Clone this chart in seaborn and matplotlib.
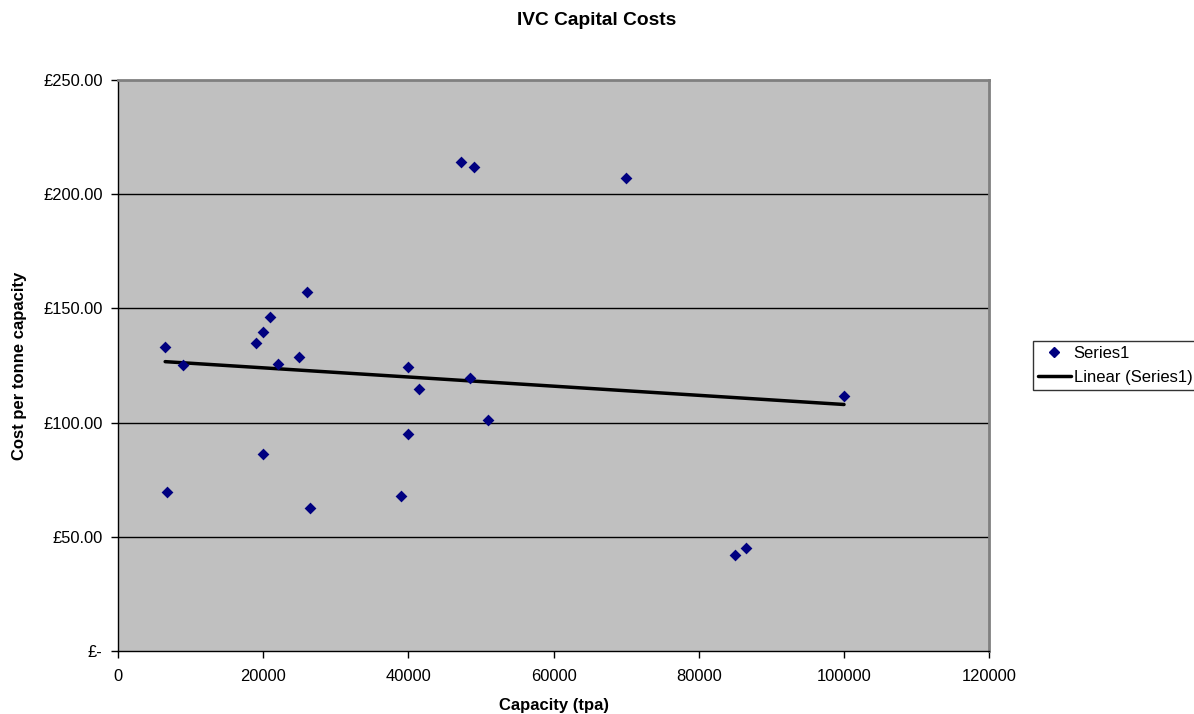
#!/usr/bin/env python3
"""
IVC Capital Costs - scatter of cost per tonne vs capacity with linear trend
"""

import numpy as np
import pandas as pd
import matplotlib
matplotlib.use('Agg')
import matplotlib.pyplot as plt
from matplotlib.ticker import FuncFormatter
from matplotlib.lines import Line2D
import seaborn as sns

# Data
capacity = [6500, 6700, 9000, 19000, 20000, 21000, 22000, 25000, 26000, 20000,
            26500, 39000, 40000, 41500, 48500, 51000, 40000, 47300, 49000,
            70000, 100000, 85000, 86500]
cost = [133.0, 69.5, 125.2, 134.7, 139.8, 146.4, 125.5, 128.9, 157.0, 86.1,
        62.5, 67.9, 124.5, 114.8, 119.5, 101.3, 95.1, 214.0, 211.8,
        207.2, 111.6, 42.0, 45.0]

x_ticks = [0, 20000, 40000, 60000, 80000, 100000, 120000]
y_ticks = [0, 50, 100, 150, 200, 250]


def pound_fmt(v, pos):
    if v == 0:
        return '£-'
    return f'£{v:,.2f}'


def main():
    df = pd.DataFrame({'capacity': capacity, 'cost': cost})

    sns.set_style('white')
    plt.rcParams['font.family'] = ['Liberation Sans', 'DejaVu Sans']
    plt.rcParams['text.color'] = 'black'
    plt.rcParams['axes.labelcolor'] = 'black'
    plt.rcParams['xtick.color'] = 'black'
    plt.rcParams['ytick.color'] = 'black'

    fig = plt.figure(figsize=(11.94, 7.14), dpi=100)
    ax = fig.add_axes([0.0988, 0.0882, 0.7297, 0.7998])
    ax.set_facecolor('#C0C0C0')

    # gridlines
    for yv in y_ticks[1:-1]:
        ax.axhline(yv, color='black', linewidth=1, zorder=1)

    # trend line
    sns.regplot(data=df, x='capacity', y='cost', ax=ax, scatter=False, ci=None,
                truncate=True, color='black', line_kws={'linewidth': 2.5, 'zorder': 3})

    # points
    sns.scatterplot(data=df, x='capacity', y='cost', ax=ax, marker='D', s=36,
                    color='#000080', edgecolor='#000080', linewidth=0, zorder=4)

    ax.set_xlim(0, 120000)
    ax.set_ylim(0, 250)
    ax.set_xticks(x_ticks)
    ax.set_yticks(y_ticks)
    ax.yaxis.set_major_formatter(FuncFormatter(pound_fmt))
    ax.tick_params(axis='both', direction='out', length=5, width=1, color='black',
                   labelsize=11.9, bottom=True, left=True)
    ax.tick_params(axis='x', pad=8)
    ax.tick_params(axis='y', pad=6)

    for side in ['left', 'bottom']:
        ax.spines[side].set_color('black')
        ax.spines[side].set_linewidth(1)
    for side in ['top', 'right']:
        ax.spines[side].set_color('#808080')
        ax.spines[side].set_linewidth(2)

    ax.set_xlabel('Capacity (tpa)', fontsize=12, fontweight='bold', labelpad=10)
    ax.set_ylabel('Cost per tonne capacity', fontsize=12, fontweight='bold', labelpad=12)
    fig.text(0.5, 0.971, 'IVC Capital Costs', ha='center', va='center',
             fontsize=13.8, fontweight='bold')

    handles = [
        Line2D([], [], marker='D', color='#000080', linestyle='none', markersize=5),
        Line2D([], [], color='black', linewidth=2.5),
    ]
    leg = fig.legend(handles, ['Series1', 'Linear (Series1)'], loc='upper left',
                     bbox_to_anchor=(0.865, 0.523), frameon=True, fancybox=False,
                     fontsize=12, borderpad=0.3, handlelength=2.0, handletextpad=0.15,
                     labelspacing=0.55, borderaxespad=0)
    leg.get_frame().set_edgecolor('black')
    leg.get_frame().set_linewidth(1)

    fig.savefig('out.png', dpi=100, facecolor='white')
    plt.close(fig)


if __name__ == "__main__":
    main()
